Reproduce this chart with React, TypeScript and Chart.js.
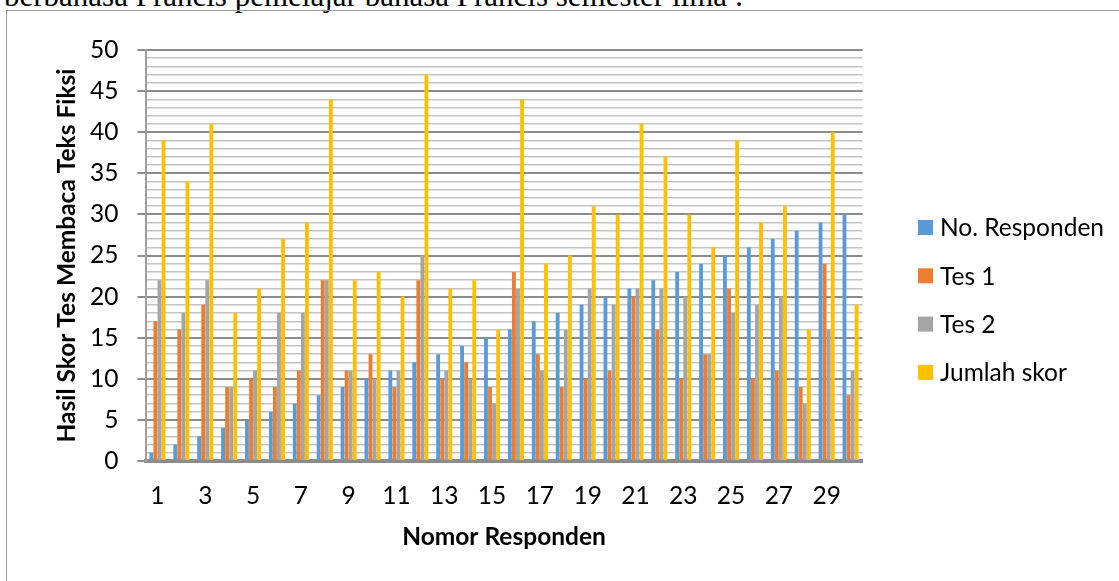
import React, { useEffect, useRef } from "react";
import { Chart, registerables } from "chart.js";

Chart.register(...registerables);

const categories = [
  "1", "2", "3", "4", "5", "6", "7", "8", "9", "10",
  "11", "12", "13", "14", "15", "16", "17", "18", "19", "20",
  "21", "22", "23", "24", "25", "26", "27", "28", "29", "30",
];

const noResponden = [
  1, 2, 3, 4, 5, 6, 7, 8, 9, 10,
  11, 12, 13, 14, 15, 16, 17, 18, 19, 20,
  21, 22, 23, 24, 25, 26, 27, 28, 29, 30,
];

const tes1 = [
  17, 16, 19, 9, 10, 9, 11, 22, 11, 13,
  9, 22, 10, 12, 9, 23, 13, 9, 10, 11,
  20, 16, 10, 13, 21, 10, 11, 9, 24, 8,
];

const tes2 = [
  22, 18, 22, 9, 11, 18, 18, 22, 11, 10,
  11, 25, 11, 10, 7, 21, 11, 16, 21, 19,
  21, 21, 20, 13, 18, 19, 20, 7, 16, 11,
];

const jumlahSkor = [
  39, 34, 41, 18, 21, 27, 29, 44, 22, 23,
  20, 47, 21, 22, 16, 44, 24, 25, 31, 30,
  41, 37, 30, 26, 39, 29, 31, 16, 40, 19,
];

const seriesLabels = ["No. Responden", "Tes 1", "Tes 2", "Jumlah skor"];
const seriesColors = ["#5B9BD5", "#ED7D31", "#A5A5A5", "#FFC000"];

const yTitle = "Hasil Skor Tes Membaca Teks Fiksi";
const xTitle = "Nomor Responden";
const headerText = "berbahasa Prancis pemelajar bahasa Prancis semester lima :";

const FONT = "Lato";
const FS = 24.5;

const sideLegend = {
  id: "sideLegend",
  afterDraw(chart: any) {
    const { ctx, chartArea } = chart;
    ctx.save();
    chart.data.datasets.forEach((ds: any, i: number) => {
      const y = 227.5 + i * 48.3;
      ctx.fillStyle = ds.backgroundColor;
      ctx.fillRect(chartArea.right + 55.5, y - 7.5, 15, 15);
      ctx.fillStyle = "#000000";
      ctx.font = `${FS}px ${FONT}`;
      ctx.textBaseline = "middle";
      ctx.textAlign = "left";
      ctx.fillText(ds.label, chartArea.right + 77.5, y + 1);
    });
    ctx.restore();
  },
};

export default function App() {
  const canvasRef = useRef<HTMLCanvasElement | null>(null);

  useEffect(() => {
    if (!canvasRef.current) return;
    const values = [noResponden, tes1, tes2, jumlahSkor];
    const chart = new Chart(canvasRef.current, {
      type: "bar",
      data: {
        labels: categories,
        datasets: seriesLabels.map((label, i) => ({
          label,
          data: values[i],
          backgroundColor: seriesColors[i],
          borderWidth: 0,
          categoryPercentage: 0.68,
          barPercentage: 0.95,
        })),
      },
      plugins: [sideLegend],
      options: {
        responsive: false,
        animation: false,
        devicePixelRatio: 1,
        layout: { padding: { left: 0, right: 256.5, top: 50, bottom: 0 } },
        plugins: {
          legend: { display: false },
          tooltip: { enabled: false },
        },
        scales: {
          x: {
            grid: { display: false, drawTicks: false },
            border: { display: true, color: "#8c8c8c", width: 4 },
            ticks: {
              autoSkip: false,
              maxRotation: 0,
              minRotation: 0,
              padding: 20,
              color: "#000000",
              font: { family: FONT, size: FS },
              callback: (_v: any, i: number) => (i % 2 === 0 ? categories[i] : ""),
            },
            title: {
              display: true,
              text: xTitle,
              color: "#000000",
              font: { family: FONT, size: FS, weight: "bold" },
              padding: { top: 0, bottom: 29 },
            },
            afterFit: (scale: any) => {
              scale.height = 120;
            },
          },
          y: {
            min: 0,
            max: 50,
            grid: {
              color: (c: any) => (c.tick && c.tick.value % 5 === 0 ? "#8c8c8c" : "#c4c4c4"),
              lineWidth: (c: any) => (c.tick && c.tick.value % 5 === 0 ? 2 : 1.5),
              tickColor: (c: any) => (c.tick && c.tick.value % 5 === 0 ? "#8c8c8c" : "rgba(0,0,0,0)"),
              tickLength: 8,
              drawTicks: true,
            },
            border: { display: true, color: "#a0a0a0", width: 2 },
            ticks: {
              stepSize: 1,
              autoSkip: false,
              maxTicksLimit: 100,
              padding: 19,
              color: "#000000",
              font: { family: FONT, size: FS },
              callback: (v: any) => (Number(v) % 5 === 0 ? String(v) : ""),
            },
            title: {
              display: true,
              text: yTitle,
              color: "#000000",
              font: { family: FONT, size: FS, weight: "bold" },
              padding: { top: 52, bottom: 0 },
            },
            afterFit: (scale: any) => {
              scale.width = 145.5;
            },
          },
        },
      },
    } as any);
    return () => chart.destroy();
  }, []);

  return (
    <div
      style={{
        position: "fixed",
        left: 0,
        top: 0,
        width: 1119,
        height: 581,
        overflow: "hidden",
        background: "#ffffff",
      }}
    >
      <div
        style={{
          position: "absolute",
          left: 4,
          top: -19,
          whiteSpace: "nowrap",
          fontFamily: "'Liberation Serif', 'Times New Roman', serif",
          fontSize: 31,
          lineHeight: "30px",
          color: "#000000",
        }}
      >
        {headerText}
      </div>
      <div
        style={{
          position: "absolute",
          left: 6,
          top: 10,
          width: 1300,
          height: 800,
          border: "1px solid #9a9a9a",
          boxSizing: "border-box",
        }}
      />
      <canvas
        ref={canvasRef}
        width={1119}
        height={581}
        style={{ position: "absolute", left: 0, top: 0, width: 1119, height: 581 }}
      />
    </div>
  );
}
